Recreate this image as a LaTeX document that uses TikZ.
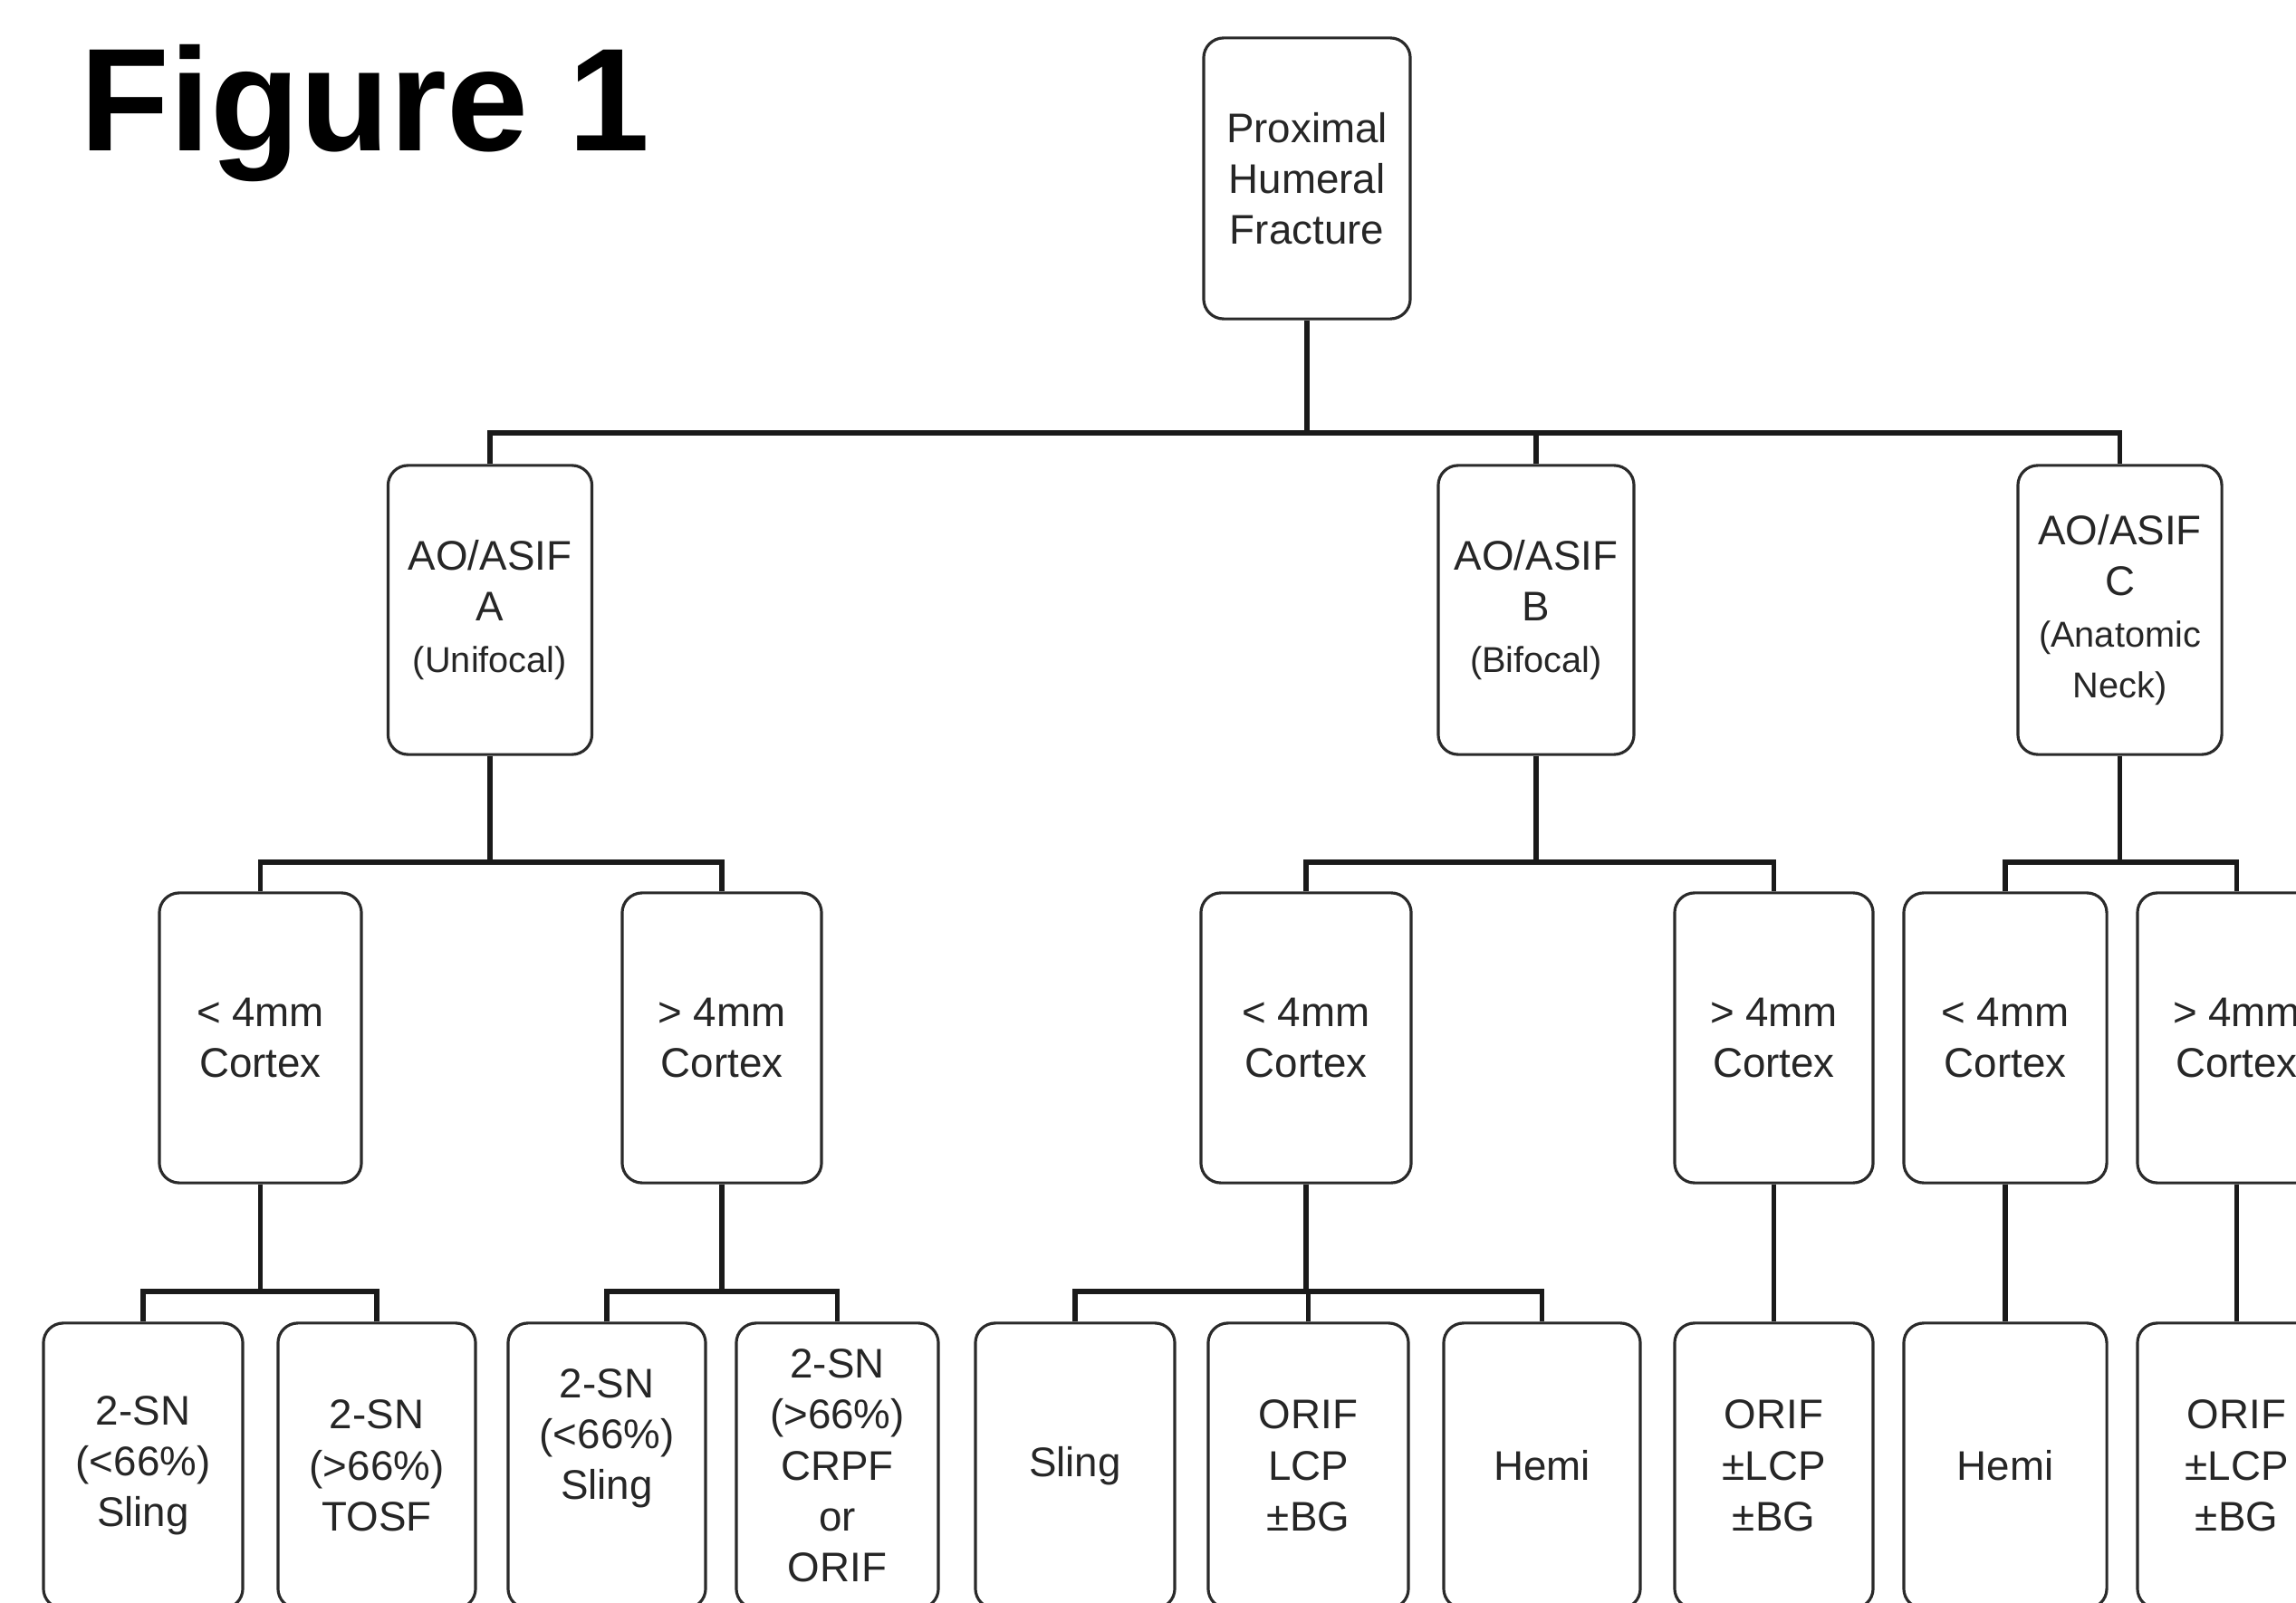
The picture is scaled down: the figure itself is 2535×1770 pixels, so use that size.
\documentclass[tikz,border=0pt]{standalone}
\usepackage{fontspec}
\setmainfont{Liberation Sans}
\definecolor{boxc}{HTML}{2A2A2A}
\definecolor{linec}{HTML}{1A1A1A}
\definecolor{txtc}{HTML}{262626}
\tikzset{
  bx/.style={draw=boxc, line width=0.9pt, rounded corners=0.22cm, align=center,
    font=\fontsize{13}{16}\selectfont, text=txtc, inner sep=0pt},
  conn/.style={draw=linec, line width=1.6pt},
}
\newcommand{\smtxt}{\fontsize{11.3}{12.5}\selectfont}
\begin{document}
\begin{tikzpicture}[x=0.01cm,y=-0.01cm]
\useasboundingbox (0,0) rectangle (2535,1770);
\clip (0,0) rectangle (2535,1770);
\fill[white] (0,0) rectangle (2535,1770);
\node[font=\fontsize{46}{50}\selectfont\bfseries, anchor=base west, inner sep=0pt] (title) at (88,167) {Figure 1};
% levels
\coordinate (y0) at (0,478);
\coordinate (y1) at (0,952);
\coordinate (y2) at (0,1426);
\node[bx, minimum width=2.28cm, minimum height=3.10cm] (top) at (1443,197) {Proximal\\Humeral\\Fracture};
\node[bx, minimum width=2.25cm, minimum height=3.19cm] (A) at (541,673.5) {AO/ASIF\\A\\\smtxt (Unifocal)};
\node[bx, minimum width=2.16cm, minimum height=3.19cm] (B) at (1696,673.5) {AO/ASIF\\B\\\smtxt (Bifocal)};
\node[bx, minimum width=2.25cm, minimum height=3.19cm] (C) at (2340.5,673.5) {AO/ASIF\\C\\\smtxt (Anatomic\\\smtxt Neck)};
% level 3
\node[bx, minimum width=2.23cm, minimum height=3.20cm] (A1) at (287.5,1146) {< 4mm\\Cortex};
\node[bx, minimum width=2.20cm, minimum height=3.20cm] (A2) at (797,1146) {> 4mm\\Cortex};
\node[bx, minimum width=2.32cm, minimum height=3.20cm] (B1) at (1442,1146) {< 4mm\\Cortex};
\node[bx, minimum width=2.19cm, minimum height=3.20cm] (B2) at (1958.5,1146) {> 4mm\\Cortex};
\node[bx, minimum width=2.24cm, minimum height=3.20cm] (C1) at (2214,1146) {< 4mm\\Cortex};
\node[bx, minimum width=2.19cm, minimum height=3.20cm] (C2) at (2469.5,1146) {> 4mm\\Cortex};
% level 4
\node[bx, minimum width=2.20cm, minimum height=3.15cm] (L1) at (158,1618.5) {2-SN\\(<66\%)\\Sling};
\node[bx, minimum width=2.18cm, minimum height=3.15cm] (L2) at (416,1618.5) {2-SN\\(>66\%)\\TOSF};
\node[bx, minimum width=2.18cm, minimum height=3.15cm, text depth=0.7cm] (L3) at (670,1618.5) {2-SN\\(<66\%)\\Sling};
\node[bx, minimum width=2.23cm, minimum height=3.15cm] (L4) at (924.5,1618.5) {2-SN\\(>66\%)\\CRPF\\or\\ORIF};
\node[bx, minimum width=2.20cm, minimum height=3.15cm] (L5) at (1187,1618.5) {Sling};
\node[bx, minimum width=2.21cm, minimum height=3.15cm] (L6) at (1444.5,1618.5) {ORIF\\LCP\\±BG};
\node[bx, minimum width=2.17cm, minimum height=3.15cm] (L7) at (1702.5,1618.5) {Hemi};
\node[bx, minimum width=2.19cm, minimum height=3.15cm] (L8) at (1958.5,1618.5) {ORIF\\±LCP\\±BG};
\node[bx, minimum width=2.24cm, minimum height=3.15cm] (L9) at (2214,1618.5) {Hemi};
\node[bx, minimum width=2.19cm, minimum height=3.15cm] (L10) at (2469.5,1618.5) {ORIF\\±LCP\\±BG};
% connectors level 1-2
\draw[conn] (top.south) -- (top.south |- y0);
\draw[conn] (A.north) |- (C.north |- y0) -- (C.north);
\draw[conn] (B.north) -- (B.north |- y0);
% level 2-3
\draw[conn] (A.south) -- (A.south |- y1);
\draw[conn] (A1.north) |- (A2.north |- y1) -- (A2.north);
\draw[conn] (B.south) -- (B.south |- y1);
\draw[conn] (B1.north) |- (B2.north |- y1) -- (B2.north);
\draw[conn] (C.south) -- (C.south |- y1);
\draw[conn] (C1.north) |- (C2.north |- y1) -- (C2.north);
% level 3-4
\draw[conn] (A1.south) -- (A1.south |- y2);
\draw[conn] (L1.north) |- (L2.north |- y2) -- (L2.north);
\draw[conn] (A2.south) -- (A2.south |- y2);
\draw[conn] (L3.north) |- (L4.north |- y2) -- (L4.north);
\draw[conn] (B1.south) -- (B1.south |- y2);
\draw[conn] (L5.north) |- (L7.north |- y2) -- (L7.north);
\draw[conn] (L6.north) -- (L6.north |- y2);
\draw[conn] (B2.south) -- (L8.north);
\draw[conn] (C1.south) -- (L9.north);
\draw[conn] (C2.south) -- (L10.north);
\end{tikzpicture}
\end{document}
